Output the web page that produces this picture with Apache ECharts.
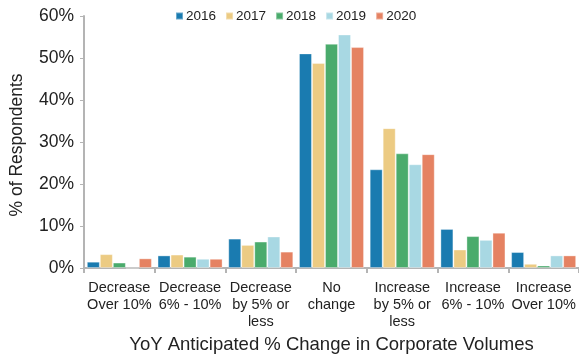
<!DOCTYPE html>
<html><head><meta charset="utf-8">
<script src="https://cdn.jsdelivr.net/npm/echarts@6/dist/echarts.min.js"></script>
<style>html,body{margin:0;padding:0;background:#fff}#c{width:579px;height:356px}</style>
</head><body><div id="c"></div>
<script>
var categories = ["Decrease\nOver 10%", "Decrease\n6% - 10%", "Decrease\nby 5% or\nless", "No\nchange", "Increase\nby 5% or\nless", "Increase\n6% - 10%", "Increase\nOver 10%"];
var years = ["2016", "2017", "2018", "2019", "2020"];
var v2016 = [1.5, 3.0, 7.0, 51.1, 23.5, 9.3, 3.8];
var v2017 = [3.3, 3.2, 5.5, 48.8, 33.3, 4.4, 1.0];
var v2018 = [1.3, 2.7, 6.3, 53.4, 27.3, 7.6, 0.6];
var v2019 = [0, 2.2, 7.5, 55.6, 24.7, 6.7, 3.0];
var v2020 = [2.3, 2.2, 3.9, 52.6, 27.1, 8.4, 3.0];
var yTicks = [0, 10, 20, 30, 40, 50, 60];
var colors = ["#1a7bb0", "#eccb83", "#4aab6c", "#a8d8e3", "#e58262"];
var values = [v2016, v2017, v2018, v2019, v2020];
var font = "Arial, 'Liberation Sans', sans-serif";
var chart = echarts.init(document.getElementById('c'), null, {renderer: 'canvas'});
chart.setOption({
  animation: false,
  color: colors,
  textStyle: {fontFamily: font, color: '#222'},
  legend: {
    data: years, left: 175, top: 9, padding: 0, itemWidth: 7, itemHeight: 7, itemGap: 9,
    icon: 'rect',
    textStyle: {fontFamily: font, fontSize: 13.5, color: '#222', padding: [0, 0, 0, -2]}
  },
  grid: {left: 84, right: 0, top: 16, bottom: 88, containLabel: false, outerBoundsMode: 'none'},
  xAxis: {
    type: 'category', data: categories,
    name: 'YoY Anticipated % Change in Corporate Volumes',
    nameLocation: 'middle', nameGap: 64,
    nameTextStyle: {fontFamily: font, fontSize: 18.5, color: '#222'},
    axisLine: {lineStyle: {color: '#b4b4b4', width: 2}},
    axisTick: {show: true, length: 5, lineStyle: {color: '#b4b4b4', width: 2}},
    axisLabel: {interval: 0, fontFamily: font, fontSize: 14.5, color: '#222', lineHeight: 16.7, margin: 12}
  },
  yAxis: {
    type: 'value', min: 0, max: 60, interval: 10,
    name: '% of Respondents', nameLocation: 'middle', nameGap: 58, nameRotate: 90,
    nameTextStyle: {fontFamily: font, fontSize: 17.5, color: '#222', padding: [0, 6, 0, 0]},
    axisLine: {show: true, lineStyle: {color: '#b4b4b4', width: 2}},
    axisTick: {show: true, length: 4, lineStyle: {color: '#b4b4b4', width: 1}},
    splitLine: {show: false},
    axisLabel: {fontFamily: font, fontSize: 17.5, color: '#222', margin: 10,
      formatter: function (v) { return yTicks.indexOf(v) >= 0 ? v + '%' : ''; }}
  },
  series: years.map(function (y, i) {
    return {
      name: y, type: 'bar', data: values[i], barGap: '0%', barCategoryGap: '8%',
      itemStyle: {color: colors[i], borderColor: 'rgba(255,255,255,0.35)', borderWidth: 1}
    };
  })
});
</script></body></html>
